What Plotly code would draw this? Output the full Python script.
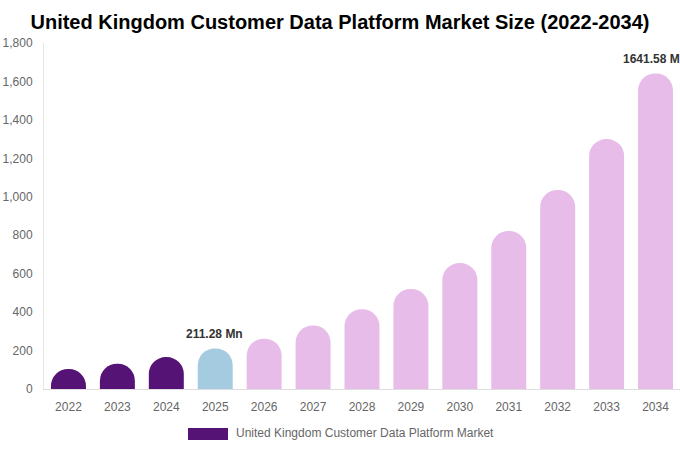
import plotly.graph_objects as go

years = ["2022", "2023", "2024", "2025", "2026", "2027", "2028", "2029", "2030", "2031", "2032", "2033", "2034"]
values = [104, 131, 166, 211.28, 262, 330, 415, 520, 655, 822, 1035, 1300, 1641.58]
labels = ["", "", "", "211.28 Mn", "", "", "", "", "", "", "", "", "1641.58 Mn"]
bar_colors = ["#541375"] * 3 + ["#a5cbe0"] + ["#e7bce9"] * 9
series_name = "United Kingdom Customer Data Platform Market"

FONT = "Liberation Sans, Arial, sans-serif"

fig = go.Figure()
fig.add_trace(go.Bar(
    x=years, y=values, name=series_name,
    marker=dict(color=bar_colors, line=dict(width=0)),
    showlegend=False, hoverinfo="x+y",
))

# value labels: placed at the category index of each labelled bar
for i, (y, t) in enumerate(zip(values, labels)):
    if t:
        fig.add_annotation(x=i, y=y, text="<b>" + t + "</b>", showarrow=False,
                           xanchor="center", yanchor="bottom", yshift=5, xshift=-1,
                           font=dict(family=FONT, size=12, color="#333333"))

# legend (drawn as a wide swatch like the reference)
fig.add_shape(type="rect", xref="paper", yref="paper",
              x0=0.2264, x1=0.2893, y0=-0.1474, y1=-0.1127,
              fillcolor=bar_colors[0], line=dict(width=0))
fig.add_annotation(xref="paper", yref="paper", x=0.2987, y=-0.128, text=series_name,
                   showarrow=False, xanchor="left", yanchor="middle",
                   font=dict(family=FONT, size=12, color="#666666"))

fig.update_layout(
    width=680, height=450,
    margin=dict(l=44, r=0, t=43, b=61, autoexpand=False),
    paper_bgcolor="white", plot_bgcolor="white",
    bargap=0.285, barcornerradius=18,
    font=dict(family=FONT, size=12, color="#666666"),
    title=dict(text="<b>United Kingdom Customer Data Platform Market Size (2022-2034)</b>",
               x=0.5, xref="container", xanchor="center", y=0.951, yanchor="middle",
               font=dict(family=FONT, size=20, color="#000000")),
    xaxis=dict(type="category", range=[-0.5, len(years) - 0.5], showline=True, linecolor="#dddddd",
               linewidth=1, showgrid=False, ticks="", automargin=False, ticklabelstandoff=7,
               tickfont=dict(size=12, color="#666666")),
    yaxis=dict(range=[0, 1800], dtick=200, tickformat=",d", showline=True, linecolor="#e6e6e6",
               linewidth=1, showgrid=False, zeroline=False, ticks="", ticklabelstandoff=8,
               automargin=False, tickfont=dict(size=12, color="#666666")),
    showlegend=False,
)

fig.write_html("out.html", config={"displayModeBar": False},
               post_script="document.body.style.margin='0px';")
